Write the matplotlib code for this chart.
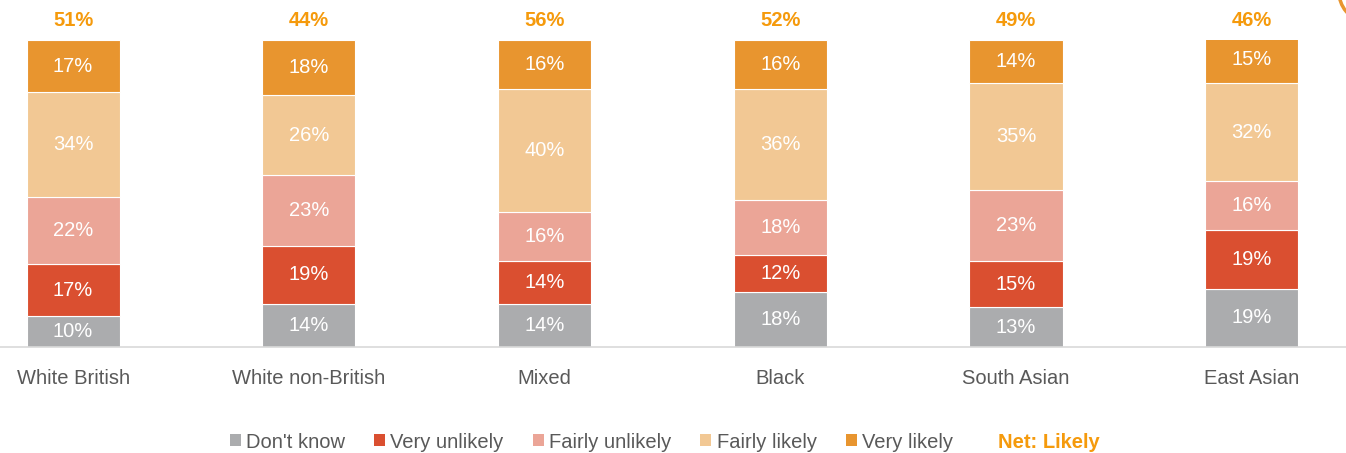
import numpy as np
import matplotlib.pyplot as plt
from matplotlib.patches import Patch, Arc

plt.rcParams['font.family'] = ['Liberation Sans', 'DejaVu Sans']

groups = ["White British", "White non-British", "Mixed", "Black", "South Asian", "East Asian"]
series = ["Don't know", "Very unlikely", "Fairly unlikely", "Fairly likely", "Very likely"]
dont_know = [10, 14, 14, 18, 13, 19]
very_unlikely = [17, 19, 14, 12, 15, 19]
fairly_unlikely = [22, 23, 16, 18, 23, 16]
fairly_likely = [34, 26, 40, 36, 35, 32]
very_likely = [17, 18, 16, 16, 14, 15]
net_likely = [51, 44, 56, 52, 49, 46]

colors = ["#ABACAE", "#DA4F30", "#EBA597", "#F2C894", "#E8952F"]
net_color = "#F59A0C"
text_grey = "#595959"

values = [dont_know, very_unlikely, fairly_unlikely, fairly_likely, very_likely]

fig = plt.figure(figsize=(13.46, 4.53), dpi=100)
ax = fig.add_axes([0, 1 - 347 / 453, 1, (347 - 40) / 453])

x = np.arange(len(groups))
bottom = np.zeros(len(groups))
for vals, col in zip(values, colors):
    vals = np.array(vals, dtype=float)
    ax.bar(x, vals, width=0.395, bottom=bottom, color=col, edgecolor="white", linewidth=0.8)
    for xi, b, v in zip(x, bottom, vals):
        ax.text(xi, b + v / 2, f"{int(v)}%", ha="center", va="center",
                color="white", fontsize=14.5)
    bottom += vals

for xi, n in zip(x, net_likely):
    ax.text(xi, 106.3, f"{n}%", ha="center", va="center", color=net_color,
            fontsize=14.5, fontweight="bold", clip_on=False)

ax.set_xlim(-0.31, 5.4)
ax.set_ylim(0, 100)
ax.set_yticks([])
ax.set_xticks(x)
ax.set_xticklabels(groups, fontsize=14.5, color=text_grey)
ax.tick_params(axis="x", length=0, pad=16)
for s in ["top", "left", "right"]:
    ax.spines[s].set_visible(False)
ax.spines["bottom"].set_color("#D9D9D9")
ax.spines["bottom"].set_linewidth(1.2)

handles = [Patch(facecolor=c, edgecolor="none") for c in colors]
handles.append(Patch(facecolor="none", edgecolor="none"))
labels = series + ["Net: Likely"]
leg = fig.legend(handles, labels, loc="center", bbox_to_anchor=(0.494, 1 - 442 / 453),
                 ncol=6, frameon=False, fontsize=14.5, handlelength=0.55, handleheight=0.55,
                 handletextpad=0.25, columnspacing=1.45, borderpad=0)
for t in leg.get_texts():
    t.set_color(text_grey)
leg.get_texts()[-1].set_color(net_color)
leg.get_texts()[-1].set_fontweight("bold")

# decorative arc at top right corner
fig.add_artist(Arc((13.69, 4.61), 0.6, 0.6, theta1=180, theta2=260,
                   transform=fig.dpi_scale_trans, color="#E8952F", linewidth=2.5))

fig.savefig("out.png", dpi=100)
